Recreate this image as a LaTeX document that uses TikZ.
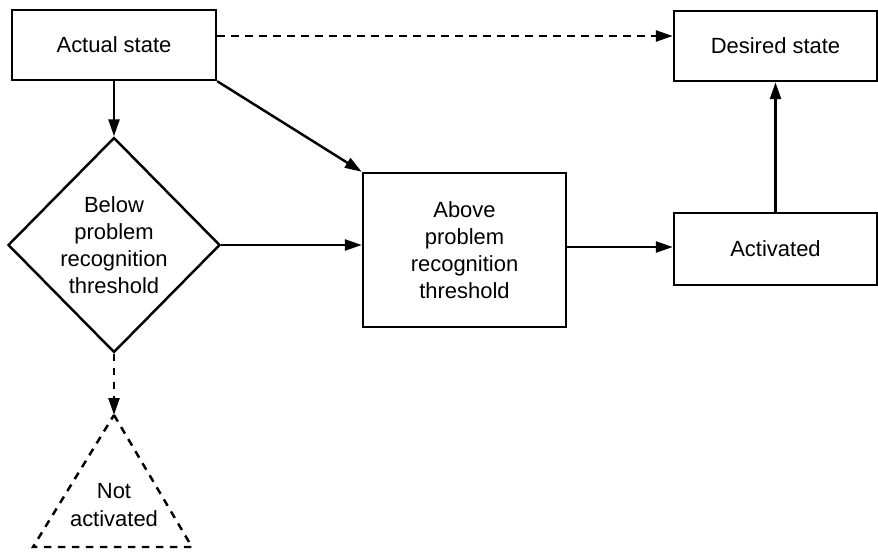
\documentclass[tikz,border=0pt]{standalone}
\usepackage{fontspec}
\setmainfont{Liberation Sans}
\usetikzlibrary{arrows.meta,shapes.geometric}

\tikzset{
    box/.style={draw, line width=1.4pt, align=center, inner sep=0pt},
    rhomb/.style={draw, diamond, line width=1.4pt, align=center, inner sep=0pt,
        minimum width=4.24cm, minimum height=4.3cm},
    link/.style={-{Triangle[length=0.34cm,width=0.22cm]}, line width=1.4pt},
    dashlink/.style={link, dash pattern=on 0.15cm off 0.13cm},
}

\begin{document}
\begin{tikzpicture}[font=\fontsize{12.5}{15.5}\selectfont]

    \useasboundingbox (0,0) rectangle (17.56,-11.02);

    % States
    \node[box, minimum width=4.08cm, minimum height=1.4cm] (actual) at (2.28,-0.9) {Actual state};
    \node[box, minimum width=4.06cm, minimum height=1.4cm] (desired) at (15.51,-0.92) {Desired state};

    % Threshold
    \node[rhomb] (below) at (2.28,-4.9) {Below\\problem\\recognition\\threshold};
    \node[box, minimum width=4.06cm, minimum height=3.08cm] (above) at (9.29,-5.0) {Above\\problem\\recognition\\threshold};

    % Activated
    \node[box, minimum width=4.06cm, minimum height=1.44cm] (activated) at (15.51,-4.98) {Activated};

    % Not activated
    \coordinate (notapex) at (2.28,-8.3);
    \draw[line width=1.4pt, dash pattern=on 0.15cm off 0.13cm]
        (notapex) -- (3.84,-10.94) -- (0.66,-10.94) -- cycle;
    \node[align=center] (notact) at (2.28,-10.1) {Not\\activated};

    % Connectors
    \draw[dashlink] ([yshift=0.18cm]actual.east) -- ([yshift=0.18cm]actual.east -| desired.west);
    \draw[link] (actual.south) -- (below.north);
    \draw[link] (actual.south east) -- (above.north west);
    \draw[link] (below.east) -- (below.east -| above.west);
    \draw[link] ([yshift=0.06cm]above.east) -- ([yshift=0.06cm]above.east -| activated.west);
    \draw[link] (activated.north) -- (desired.south);
    \draw[dashlink] (below.south) -- (notapex);

\end{tikzpicture}
\end{document}
